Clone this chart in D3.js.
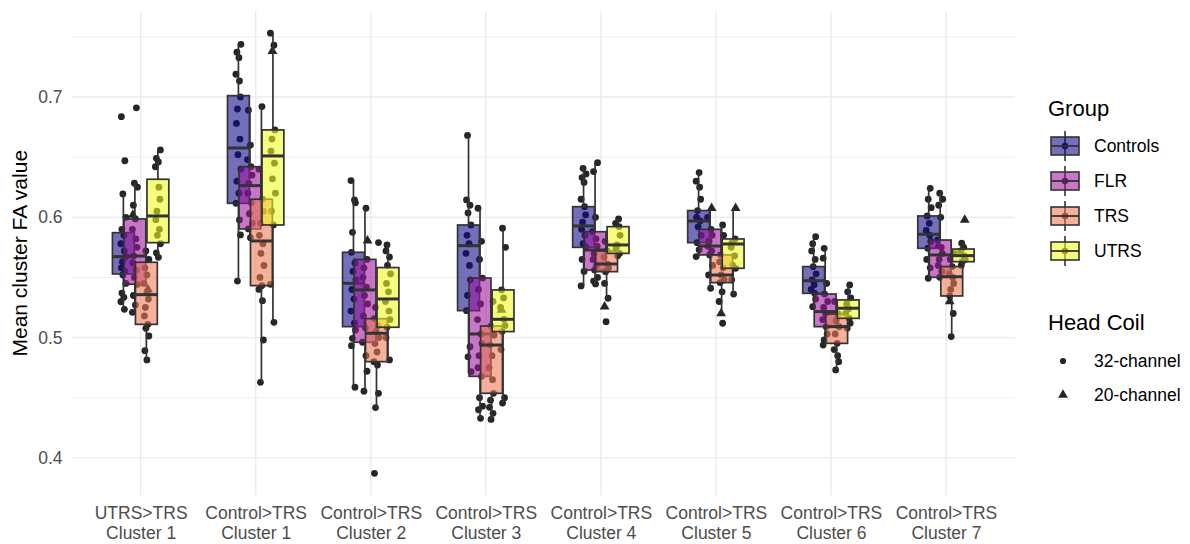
<!DOCTYPE html>
<html>
<head>
<meta charset="utf-8">
<script src="https://cdn.jsdelivr.net/npm/d3@7"></script>
<style>
  body { margin: 0; background: #fff; }
  svg text { font-family: "Liberation Sans", Arial, sans-serif; }
</style>
</head>
<body>
<div id="chart"></div>
<script>
const clusterLabels = [
  ["UTRS>TRS", "Cluster 1"], ["Control>TRS", "Cluster 1"], ["Control>TRS", "Cluster 2"],
  ["Control>TRS", "Cluster 3"], ["Control>TRS", "Cluster 4"], ["Control>TRS", "Cluster 5"],
  ["Control>TRS", "Cluster 6"], ["Control>TRS", "Cluster 7"]
];
const groups = ["Controls", "FLR", "TRS", "UTRS"];
const groupColors = ["#0D0887", "#9C179E", "#ED7953", "#F0F921"];
const yTicks = [0.4, 0.5, 0.6, 0.7];

// box stats per cluster: [lower whisker, q1, median, q3, upper whisker]
const controlsStats = [
  [0.5235, 0.5529, 0.5673, 0.5872, 0.6194], [0.547, 0.6116, 0.6576, 0.7011, 0.7438],
  [0.4587, 0.5091, 0.5451, 0.5709, 0.6305], [0.4717, 0.5224, 0.5764, 0.5936, 0.668],
  [0.5429, 0.575, 0.5928, 0.6088, 0.6407], [0.5673, 0.5789, 0.5969, 0.6056, 0.6372],
  [0.5257, 0.5368, 0.5473, 0.559, 0.5839], [0.5493, 0.5742, 0.5859, 0.6011, 0.6241]
];
const flrStats = [
  [0.521, 0.5443, 0.5678, 0.5986, 0.6283], [0.583, 0.5903, 0.6263, 0.642, 0.689],
  [0.4554, 0.4961, 0.5396, 0.565, 0.6075], [0.4329, 0.4678, 0.503, 0.5495, 0.6075],
  [0.5446, 0.5562, 0.5728, 0.588, 0.6454], [0.541, 0.5687, 0.5761, 0.59, 0.6075],
  [0.4938, 0.5091, 0.5216, 0.5362, 0.5742], [0.5501, 0.5501, 0.5687, 0.5811, 0.62]
];
const trsStats = [
  [0.4814, 0.511, 0.5357, 0.5626, 0.572], [0.4628, 0.5432, 0.5803, 0.615, 0.692],
  [0.4418, 0.48, 0.5036, 0.5157, 0.525], [0.432, 0.4537, 0.4938, 0.5096, 0.53],
  [0.5327, 0.5548, 0.5612, 0.572, 0.58], [0.5201, 0.5457, 0.552, 0.5687, 0.5936],
  [0.4731, 0.4952, 0.5091, 0.5196, 0.53], [0.5008, 0.5346, 0.5506, 0.559, 0.57]
];
const utrsStats = [
  [0.5667, 0.5789, 0.6011, 0.6316, 0.656], [0.5127, 0.5936, 0.651, 0.6726, 0.753],
  [0.4814, 0.5086, 0.5321, 0.5582, 0.577], [0.4456, 0.505, 0.5152, 0.5396, 0.5909],
  [0.5675, 0.57, 0.577, 0.5922, 0.5986], [0.5362, 0.5576, 0.5778, 0.582, 0.6075],
  [0.5078, 0.516, 0.5244, 0.5313, 0.5437], [0.56, 0.5631, 0.5681, 0.5736, 0.5784]
];

// individual subjects (32-channel)
const controlsPts = [
  [0.6836, 0.647, 0.6194, 0.6, 0.59, 0.585, 0.578, 0.572, 0.567, 0.563, 0.558, 0.555, 0.552, 0.545, 0.537, 0.5335, 0.5298, 0.5235],
  [0.7438, 0.7372, 0.7327, 0.7189, 0.7133, 0.70, 0.69, 0.678, 0.665, 0.652, 0.64, 0.63, 0.62, 0.6116, 0.5978, 0.5853, 0.547],
  [0.6305, 0.6144, 0.612, 0.5875, 0.5709, 0.562, 0.555, 0.548, 0.54, 0.532, 0.522, 0.512, 0.5063, 0.4994, 0.4933, 0.4587],
  [0.668, 0.6144, 0.610, 0.6036, 0.5936, 0.585, 0.578, 0.57, 0.56, 0.548, 0.535, 0.5224, 0.4924, 0.484, 0.4717],
  [0.6407, 0.636, 0.633, 0.629, 0.615, 0.6088, 0.602, 0.596, 0.59, 0.585, 0.578, 0.575, 0.565, 0.555, 0.5429],
  [0.6372, 0.630, 0.625, 0.615, 0.6056, 0.60, 0.597, 0.592, 0.585, 0.5789, 0.573, 0.5673],
  [0.5839, 0.578, 0.572, 0.565, 0.559, 0.553, 0.548, 0.544, 0.54, 0.5368, 0.532, 0.5257],
  [0.6241, 0.615, 0.608, 0.6011, 0.595, 0.589, 0.585, 0.58, 0.5742, 0.565, 0.558, 0.5493]
];
const flrPts = [
  [0.691, 0.6283, 0.625, 0.61, 0.5986, 0.59, 0.582, 0.575, 0.568, 0.562, 0.556, 0.55, 0.5443, 0.535, 0.527, 0.521],
  [0.689, 0.66, 0.648, 0.642, 0.635, 0.628, 0.62, 0.612, 0.603, 0.595, 0.5903, 0.583],
  [0.6075, 0.565, 0.558, 0.55, 0.542, 0.535, 0.528, 0.518, 0.508, 0.4961, 0.485, 0.472, 0.4554],
  [0.6075, 0.58, 0.565, 0.5495, 0.54, 0.528, 0.515, 0.503, 0.495, 0.485, 0.475, 0.4678, 0.45, 0.443, 0.44, 0.4329],
  [0.6454, 0.638, 0.6, 0.588, 0.582, 0.576, 0.57, 0.565, 0.56, 0.5562, 0.55, 0.547, 0.5446],
  [0.60, 0.59, 0.585, 0.58, 0.576, 0.572, 0.5687, 0.56, 0.552, 0.541],
  [0.5742, 0.566, 0.545, 0.5362, 0.53, 0.525, 0.52, 0.515, 0.5091, 0.503, 0.498, 0.4938],
  [0.62, 0.615, 0.61, 0.6, 0.5811, 0.575, 0.57, 0.565, 0.56, 0.555, 0.5501]
];
const trsPts = [
  [0.572, 0.565, 0.558, 0.552, 0.545, 0.538, 0.532, 0.525, 0.518, 0.511, 0.5077, 0.5013, 0.4891, 0.4814],
  [0.692, 0.64, 0.615, 0.605, 0.595, 0.585, 0.578, 0.57, 0.56, 0.55, 0.5432, 0.540, 0.5307, 0.498, 0.4628],
  [0.579, 0.525, 0.5157, 0.51, 0.505, 0.50, 0.495, 0.488, 0.48, 0.4772, 0.4537, 0.4418, 0.3872],
  [0.53, 0.5096, 0.502, 0.4938, 0.485, 0.475, 0.465, 0.4537, 0.448, 0.442, 0.437, 0.432],
  [0.58, 0.572, 0.567, 0.561, 0.558, 0.5548, 0.545, 0.5327, 0.5132],
  [0.5936, 0.585, 0.5687, 0.563, 0.558, 0.552, 0.548, 0.5457, 0.538, 0.53, 0.5119],
  [0.53, 0.5196, 0.514, 0.509, 0.503, 0.4952, 0.49, 0.485, 0.48, 0.4731],
  [0.57, 0.565, 0.559, 0.553, 0.55, 0.545, 0.54, 0.5346, 0.52, 0.5008]
];
const utrsPts = [
  [0.656, 0.649, 0.646, 0.642, 0.625, 0.615, 0.605, 0.598, 0.59, 0.585, 0.578, 0.5703, 0.5667],
  [0.753, 0.743, 0.6726, 0.665, 0.655, 0.645, 0.632, 0.62, 0.605, 0.5936, 0.5443, 0.5127],
  [0.577, 0.572, 0.567, 0.56, 0.553, 0.545, 0.538, 0.53, 0.522, 0.515, 0.5086, 0.5, 0.4814],
  [0.5909, 0.575, 0.5396, 0.533, 0.525, 0.5152, 0.51, 0.505, 0.49, 0.45, 0.4456],
  [0.5986, 0.595, 0.5922, 0.585, 0.577, 0.574, 0.57, 0.568],
  [0.582, 0.579, 0.575, 0.568, 0.56, 0.5576, 0.548, 0.5362],
  [0.5437, 0.538, 0.533, 0.528, 0.524, 0.52, 0.516, 0.512, 0.5078],
  [0.5784, 0.575, 0.572, 0.568, 0.565, 0.5631, 0.56]
];
// 20-channel subjects: [cluster index, group index, value]
const coil20Pts = [
  [0, 1, 0.6019], [0, 2, 0.540], [1, 3, 0.738], [2, 1, 0.5806], [3, 3, 0.523],
  [4, 2, 0.5257], [5, 1, 0.6075], [5, 2, 0.5201], [5, 3, 0.6075],
  [7, 1, 0.5761], [7, 2, 0.53], [7, 3, 0.5978]
];

const allStats = [controlsStats, flrStats, trsStats, utrsStats];
const allPts = [controlsPts, flrPts, trsPts, utrsPts];
const jitterPattern = [-2, 1.5, -0.5, 2.5, -1.5, 0.5, -2.5, 1, 2, -1];

const W = 1190, H = 544;
const plot = {left: 71.6, right: 1015, top: 11.2, bottom: 495.3};
const ink = "#333333";

const svg = d3.select("#chart").append("svg")
  .attr("width", W).attr("height", H);

const x = d3.scalePoint()
  .domain(d3.range(clusterLabels.length))
  .range([plot.left, plot.right])
  .padding(0.6);
const step = x.step();
const dodge = d3.scaleBand()
  .domain(groups)
  .range([-0.2 * step, 0.2 * step]);
const boxW = 0.19 * step;
const gx = (ci, gi) => x(ci) + dodge(groups[gi]) + dodge.bandwidth() / 2;

const y = d3.scaleLinear()
  .domain([0.3689, 0.7713])
  .range([plot.bottom, plot.top]);

// grid
const grid = svg.append("g");
grid.selectAll(".minor")
  .data([0.45, 0.55, 0.65, 0.75])
  .enter().append("line")
  .attr("x1", plot.left).attr("x2", plot.right)
  .attr("y1", d => y(d)).attr("y2", d => y(d))
  .attr("stroke", "#ebebeb").attr("stroke-width", 0.9);
grid.selectAll(".major")
  .data(yTicks)
  .enter().append("line")
  .attr("x1", plot.left).attr("x2", plot.right)
  .attr("y1", d => y(d)).attr("y2", d => y(d))
  .attr("stroke", "#ebebeb").attr("stroke-width", 1.4);
grid.selectAll(".vmajor")
  .data(x.domain())
  .enter().append("line")
  .attr("x1", d => x(d)).attr("x2", d => x(d))
  .attr("y1", plot.top).attr("y2", plot.bottom)
  .attr("stroke", "#ebebeb").attr("stroke-width", 1.4);

// axes
const yAxis = svg.append("g")
  .attr("transform", "translate(" + plot.left + ",0)")
  .call(d3.axisLeft(y).tickValues(yTicks).tickSize(0).tickPadding(9).tickFormat(d3.format(".1f")));
yAxis.select(".domain").remove();
yAxis.selectAll("text")
  .attr("fill", "#4d4d4d").style("font-size", "17.5px");

const xAxis = svg.append("g")
  .attr("transform", "translate(0," + plot.bottom + ")")
  .call(d3.axisBottom(x).tickSize(0).tickFormat(""));
xAxis.select(".domain").remove();
xAxis.selectAll(".tick text").remove();
xAxis.selectAll(".tick").append("text")
  .attr("fill", "#4d4d4d")
  .attr("text-anchor", "middle")
  .style("font-size", "17.5px")
  .selectAll("tspan")
  .data(d => clusterLabels[d])
  .enter().append("tspan")
  .attr("x", 0)
  .attr("y", (d, i) => 24 + i * 20)
  .text(d => d);

svg.append("text")
  .attr("transform", "translate(27," + ((plot.top + plot.bottom) / 2) + ") rotate(-90)")
  .attr("text-anchor", "middle")
  .attr("fill", "#000")
  .style("font-size", "21px")
  .text("Mean cluster FA value");

// jittered points (drawn under the boxes)
const pts = [];
allPts.forEach((byCluster, gi) => {
  byCluster.forEach((vals, ci) => {
    vals.forEach((v, i) => pts.push({ci, gi, v, j: jitterPattern[(i + ci * 3 + gi) % jitterPattern.length]}));
  });
});
svg.append("g").selectAll("circle")
  .data(pts)
  .enter().append("circle")
  .attr("cx", d => gx(d.ci, d.gi) + d.j)
  .attr("cy", d => y(d.v))
  .attr("r", 3.4)
  .attr("fill", "#262626");

const tri = d3.symbol().type(d3.symbolTriangle).size(42);
svg.append("g").selectAll("path")
  .data(coil20Pts)
  .enter().append("path")
  .attr("d", tri)
  .attr("transform", (d, i) => "translate(" + (gx(d[0], d[1]) + jitterPattern[i % 5]) + "," + y(d[2]) + ")")
  .attr("fill", "#262626");

// boxes
const boxes = [];
clusterLabels.forEach((c, ci) => {
  groups.forEach((g, gi) => boxes.push({ci, gi, s: allStats[gi][ci]}));
});
const bx = svg.append("g").selectAll("g")
  .data(boxes)
  .enter().append("g");
bx.append("line")
  .attr("x1", d => gx(d.ci, d.gi)).attr("x2", d => gx(d.ci, d.gi))
  .attr("y1", d => y(d.s[3])).attr("y2", d => y(d.s[4]))
  .attr("stroke", ink).attr("stroke-width", 1.7);
bx.append("line")
  .attr("x1", d => gx(d.ci, d.gi)).attr("x2", d => gx(d.ci, d.gi))
  .attr("y1", d => y(d.s[1])).attr("y2", d => y(d.s[0]))
  .attr("stroke", ink).attr("stroke-width", 1.7);
bx.append("rect")
  .attr("x", d => gx(d.ci, d.gi) - boxW / 2)
  .attr("width", boxW)
  .attr("y", d => y(d.s[3]))
  .attr("height", d => y(d.s[1]) - y(d.s[3]))
  .attr("fill", d => groupColors[d.gi])
  .attr("fill-opacity", 0.58)
  .attr("stroke", ink).attr("stroke-width", 1.7);
bx.append("line")
  .attr("x1", d => gx(d.ci, d.gi) - boxW / 2).attr("x2", d => gx(d.ci, d.gi) + boxW / 2)
  .attr("y1", d => y(d.s[2])).attr("y2", d => y(d.s[2]))
  .attr("stroke", ink).attr("stroke-width", 3);

// legend: Group
const lg = svg.append("g").attr("transform", "translate(1048,0)");
lg.append("text").attr("x", 0).attr("y", 116)
  .style("font-size", "22px").attr("fill", "#000").text("Group");
const keys = lg.selectAll(".key")
  .data(groups)
  .enter().append("g")
  .attr("transform", (d, i) => "translate(0," + (146 + i * 35) + ")");
keys.append("line").attr("x1", 17).attr("x2", 17).attr("y1", -15).attr("y2", 15)
  .attr("stroke", ink).attr("stroke-width", 1.6);
keys.append("circle").attr("cx", 17).attr("cy", 0).attr("r", 3.3).attr("fill", "#262626");
keys.append("rect").attr("x", 3).attr("y", -9).attr("width", 28).attr("height", 18)
  .attr("fill", (d, i) => groupColors[i]).attr("fill-opacity", 0.58)
  .attr("stroke", ink).attr("stroke-width", 1.6);
keys.append("line").attr("x1", 3).attr("x2", 31).attr("y1", 0).attr("y2", 0)
  .attr("stroke", ink).attr("stroke-width", 1.8);
keys.append("text").attr("x", 46).attr("y", 0).attr("dy", "0.35em")
  .style("font-size", "17.5px").attr("fill", "#000").text(d => d);

// legend: Head Coil
lg.append("text").attr("x", 0).attr("y", 330)
  .style("font-size", "22px").attr("fill", "#000").text("Head Coil");
const coils = ["32-channel", "20-channel"];
const ck = lg.selectAll(".coil")
  .data(coils)
  .enter().append("g")
  .attr("transform", (d, i) => "translate(0," + (361 + i * 34) + ")");
ck.append("path")
  .attr("d", (d, i) => i === 0 ? d3.symbol().type(d3.symbolCircle).size(30)() : tri())
  .attr("transform", "translate(15,0)")
  .attr("fill", "#262626");
ck.append("text").attr("x", 46).attr("y", 0).attr("dy", "0.35em")
  .style("font-size", "17.5px").attr("fill", "#000").text(d => d);
</script>
</body>
</html>
